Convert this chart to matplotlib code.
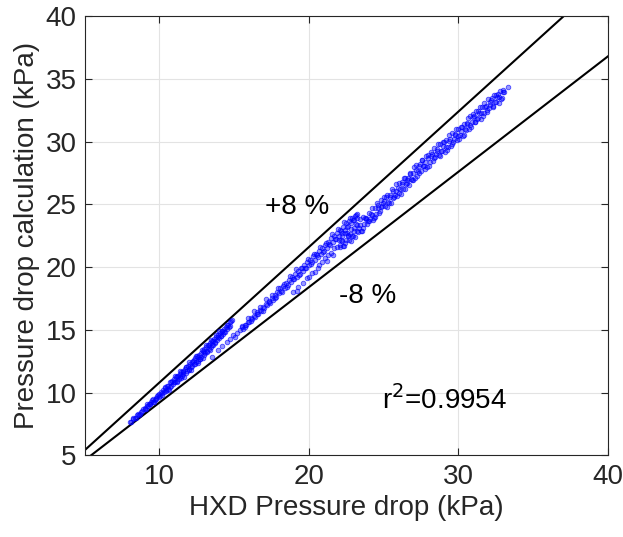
import matplotlib.pyplot as plt
import numpy as np

plt.rcParams['font.family'] = ['Liberation Sans', 'DejaVu Sans']

# branch at low pressure drop (x = HXD, y = calculation), kPa
branch_a = [
    (8.05, 7.62), (8.2, 7.85), (8.35, 7.95), (8.5, 8.2), (8.6, 8.22), (8.75, 8.48),
    (8.85, 8.5), (9.0, 8.76), (9.05, 8.65), (9.15, 8.92), (9.25, 8.95), (9.3, 9.1),
    (9.4, 9.08), (9.45, 9.28), (9.55, 9.25), (9.6, 9.45), (9.7, 9.38), (9.75, 9.6),
    (9.8, 9.52), (9.9, 9.78), (9.95, 9.65), (10.0, 9.9), (10.05, 9.75), (10.1, 10.02),
    (10.2, 9.95), (10.25, 10.18), (10.3, 10.05), (10.4, 10.35), (10.45, 10.15), (10.5, 10.5),
    (10.55, 10.28), (10.6, 10.55), (10.7, 10.45), (10.75, 10.8), (10.8, 10.55), (10.85, 10.92),
    (10.9, 10.65), (11.0, 11.1), (11.05, 10.82), (11.1, 11.2), (11.15, 10.95), (11.2, 11.35),
    (11.3, 11.05), (11.35, 11.5), (11.4, 11.2), (11.45, 11.62), (11.5, 11.3), (11.55, 11.75),
    (11.6, 11.45), (11.7, 11.9), (11.75, 11.55), (11.8, 12.0), (11.85, 11.7), (11.9, 12.15),
    (12.0, 11.85), (12.05, 12.3), (12.1, 12.0), (12.15, 12.45), (12.2, 12.1), (12.3, 12.6),
    (12.35, 12.25), (12.4, 12.75), (12.45, 12.4), (12.5, 12.9), (12.55, 12.5), (12.65, 13.0),
    (12.7, 12.7), (12.75, 13.15), (12.8, 12.85), (12.9, 13.35), (12.95, 13.0), (13.0, 13.5),
    (13.05, 13.15), (13.1, 13.6), (13.2, 13.3), (13.25, 13.8), (13.3, 13.5), (13.4, 13.95),
    (13.45, 13.65), (13.5, 14.1), (13.6, 13.8), (13.65, 14.3), (13.7, 14.0), (13.8, 14.45),
    (13.85, 14.15), (13.9, 14.6), (14.0, 14.35), (14.05, 14.75), (14.1, 14.5), (14.2, 14.9),
    (14.25, 14.65), (14.3, 15.05), (14.4, 14.85), (14.45, 15.2), (14.55, 15.05), (14.6, 15.4),
    (14.7, 15.3), (14.75, 15.6), (14.85, 15.75),
    (8.1, 7.63), (8.25, 7.98), (8.4, 7.99), (8.55, 8.32), (8.7, 8.27), (8.9, 8.65),
    (9.1, 8.69), (9.2, 9.07), (9.35, 9.05), (9.5, 9.43), (9.65, 9.27), (9.85, 9.74),
    (10.15, 9.77), (10.35, 10.41), (10.45, 10.2), (10.65, 10.24), (10.7, 10.87), (10.95, 10.8),
    (11.05, 11.28), (11.2, 10.82), (11.25, 11.3), (11.4, 11.72), (11.45, 11.18), (11.6, 11.61),
    (11.65, 11.27), (11.75, 12.01), (11.95, 11.77), (12.0, 12.4), (12.1, 11.81), (12.25, 12.53),
    (12.3, 12.24), (12.45, 12.94), (12.55, 12.34), (12.6, 12.83), (12.7, 12.66), (12.85, 13.41),
    (12.9, 12.77), (13.0, 13.22), (13.1, 13.79), (13.15, 13.2), (13.3, 13.81), (13.35, 13.36),
    (13.45, 14.19), (13.55, 13.8), (13.6, 14.1), (13.75, 13.93), (13.8, 14.59), (13.95, 14.42),
    (14.0, 14.9), (14.15, 14.49), (14.2, 14.93), (14.35, 14.84), (14.5, 15.38), (14.65, 15.26),
    (14.8, 15.7),
]

# middle branch
branch_m = [
    (13.55, 12.85), (13.9, 13.4), (14.2, 13.7), (14.5, 14.0), (14.75, 14.3), (14.9, 14.55),
    (15.05, 14.45), (15.2, 14.75),
    (15.4, 15.0), (15.5, 15.2), (15.6, 15.1), (15.7, 15.4), (15.8, 15.35), (15.9, 15.6),
    (16.0, 15.65), (16.1, 15.95), (16.2, 15.85), (16.3, 16.1), (16.4, 16.0), (16.5, 16.4),
    (16.6, 16.3), (16.7, 16.6), (16.8, 16.5), (16.9, 16.85), (17.0, 16.75), (17.1, 17.05),
    (17.2, 16.95), (17.3, 17.3), (17.4, 17.15), (17.5, 17.55), (17.6, 17.4), (17.7, 17.8),
    (17.8, 17.65), (17.9, 18.05), (18.0, 17.9), (18.1, 18.3), (18.2, 18.05), (18.3, 18.5),
    (18.4, 18.3), (18.5, 18.75), (18.6, 18.55), (18.7, 18.95), (18.8, 18.8), (18.9, 19.25),
    (19.0, 19.05), (19.1, 19.45), (19.2, 19.25), (19.3, 19.7), (19.4, 19.45), (19.5, 19.95),
    (19.6, 19.7), (19.7, 20.15), (19.8, 19.9), (19.9, 20.4), (20.0, 20.15), (20.1, 20.6),
    (20.2, 20.4), (20.3, 20.85), (20.4, 20.6), (20.5, 21.05), (20.6, 20.8), (20.7, 21.3),
    (20.8, 21.05), (20.9, 21.55), (21.0, 21.3), (21.1, 21.8), (21.2, 21.5), (21.3, 22.0),
    (21.4, 21.75), (21.5, 22.3), (21.6, 22.0), (21.7, 22.5), (21.8, 22.25), (21.9, 22.75),
    (22.0, 22.5), (22.1, 23.0), (22.2, 22.75), (22.3, 23.2), (22.4, 23.0), (22.5, 23.5),
    (22.6, 23.25), (22.7, 23.7), (22.8, 23.5), (22.9, 23.95), (23.0, 23.75), (23.1, 24.1),
    (23.2, 23.95), (23.25, 24.2),
    (15.55, 15.32), (15.75, 15.25), (15.95, 15.98), (16.15, 15.67), (16.35, 16.49), (16.55, 16.29),
    (16.75, 16.83), (16.95, 16.53), (17.15, 17.42), (17.35, 17.24), (17.55, 17.78), (17.75, 17.5),
    (17.95, 18.34), (18.15, 18.08), (18.35, 18.64), (18.55, 18.41), (18.75, 19.3), (18.95, 19.09),
    (19.15, 19.82), (19.35, 19.39), (19.55, 19.96), (19.75, 19.93), (19.95, 20.65), (20.15, 20.23),
    (20.35, 21.02), (20.55, 20.96), (20.75, 21.62), (20.95, 21.24), (21.15, 21.92), (21.35, 21.81),
    (21.55, 22.62), (21.75, 22.23), (21.95, 23.04), (22.15, 22.92), (22.35, 23.57), (22.55, 23.21),
    (22.75, 23.88), (22.95, 23.75), (23.15, 24.12),
]

# high pressure drop branch
branch_l = [
    (18.95, 18.05), (19.3, 18.4), (19.6, 18.75), (19.9, 19.1), (20.2, 19.5), (20.4, 19.65),
    (20.7, 20.2), (20.9, 20.4), (21.1, 20.7), (21.3, 20.95), (21.5, 21.15), (21.7, 21.5),
    (21.9, 21.6), (19.2, 18.1), (20.0, 19.25), (20.6, 19.9), (21.2, 20.45), (21.6, 21.0),
    (22.0, 22.15), (22.1, 21.6), (22.2, 22.1), (22.3, 21.65), (22.4, 22.7), (22.5, 22.2),
    (22.6, 22.6), (22.7, 22.15), (22.8, 23.05), (22.9, 22.5), (23.0, 22.85), (23.1, 22.41),
    (23.2, 23.37), (23.3, 22.83), (23.4, 23.34), (23.5, 22.9), (23.6, 23.96), (23.7, 23.47),
    (23.8, 23.88), (23.9, 23.44), (24.0, 24.35), (24.1, 23.82), (24.2, 24.19), (24.3, 23.76),
    (24.4, 24.73), (24.5, 24.2), (24.6, 24.72), (24.7, 24.29), (24.8, 25.36), (24.9, 24.88),
    (25.0, 25.3), (25.1, 24.86), (25.2, 25.77), (25.3, 25.23), (25.4, 25.59), (25.5, 25.15),
    (25.6, 26.11), (25.7, 25.57), (25.8, 26.08), (25.9, 25.64), (26.0, 26.7), (26.1, 26.22),
    (26.2, 26.64), (26.3, 26.21), (26.4, 27.13), (26.5, 26.6), (26.6, 26.97), (26.7, 26.54),
    (26.8, 27.51), (26.9, 26.98), (27.0, 27.5), (27.1, 27.07), (27.2, 28.14), (27.3, 27.66),
    (27.4, 28.08), (27.5, 27.65), (27.6, 28.57), (27.7, 28.04), (27.8, 28.41), (27.9, 27.98),
    (28.0, 28.95), (28.1, 28.4), (28.2, 28.9), (28.3, 28.45), (28.4, 29.5), (28.5, 29.0),
    (28.6, 29.4), (28.7, 28.95), (28.8, 29.85), (28.9, 29.3), (29.0, 29.65), (29.1, 29.2),
    (29.2, 30.15), (29.3, 29.6), (29.4, 30.1), (29.5, 29.65), (29.6, 30.7), (29.7, 30.2),
    (29.8, 30.6), (29.9, 30.15), (30.0, 31.05), (30.1, 30.52), (30.2, 30.89), (30.3, 30.46),
    (30.4, 31.43), (30.5, 30.9), (30.6, 31.42), (30.7, 30.99), (30.8, 32.06), (30.9, 31.58),
    (31.0, 32.0), (31.1, 31.56), (31.2, 32.47), (31.3, 31.93), (31.4, 32.29), (31.5, 31.85),
    (31.6, 32.81), (31.7, 32.27), (31.8, 32.78), (31.9, 32.34), (32.0, 33.4), (32.1, 32.9),
    (32.2, 33.3), (32.3, 32.85), (32.4, 33.75), (32.5, 33.2), (32.6, 33.55), (32.7, 33.1),
    (32.8, 34.05), (32.9, 33.5), (33.0, 34.0), (33.0, 34.1), (33.35, 34.4),
    (22.05, 21.75), (22.25, 22.5), (22.45, 21.95), (22.65, 22.5), (22.85, 22.1), (23.05, 23.16),
    (23.25, 22.88), (23.45, 23.85), (23.65, 23.12), (23.85, 23.84), (24.05, 23.71), (24.25, 24.7),
    (24.45, 23.99), (24.65, 24.93), (24.85, 24.77), (25.05, 25.56), (25.25, 24.83), (25.45, 25.75),
    (25.65, 25.52), (25.85, 26.64), (26.05, 25.91), (26.25, 26.8), (26.45, 26.24), (26.65, 27.08),
    (26.85, 27.02), (27.05, 28.01), (27.25, 27.25), (27.45, 28.19), (27.65, 28.08), (27.85, 28.87),
    (28.05, 28.1), (28.25, 29.05), (28.45, 28.75), (28.65, 29.85), (28.85, 29.3), (29.05, 30.0),
    (29.25, 29.35), (29.45, 30.2), (29.65, 30.0), (29.85, 31.0), (30.05, 30.26), (30.25, 31.2),
    (30.45, 31.04), (30.65, 31.88), (30.85, 31.17), (31.05, 32.06), (31.25, 31.83), (31.45, 32.75),
    (31.65, 32.02), (31.85, 32.84), (32.05, 32.66), (32.25, 33.53), (32.45, 33.15), (32.65, 33.8),
    (32.85, 33.4), (33.05, 34.0),
    (22.15, 22.2), (22.35, 21.7), (22.55, 22.75), (22.75, 22.65), (22.95, 22.45), (23.15, 23.47),
    (23.35, 23.09), (23.55, 22.91), (23.75, 23.93), (23.95, 23.65), (24.15, 24.23), (24.35, 23.92),
    (24.55, 25.11), (24.75, 24.5), (24.95, 25.1), (25.15, 25.62), (25.35, 25.14), (25.55, 26.21),
    (25.75, 25.78), (25.95, 26.35), (26.15, 25.83), (26.35, 27.07), (26.55, 26.71), (26.75, 27.4),
    (26.95, 26.94), (27.15, 27.78), (27.35, 27.52), (27.55, 28.56), (27.75, 27.85), (27.95, 28.69),
    (28.15, 29.2), (28.35, 28.7), (28.55, 29.25), (28.75, 28.85), (28.95, 29.95), (29.15, 29.55),
    (29.35, 30.5), (29.55, 29.8), (29.75, 30.5), (29.95, 30.45), (30.15, 31.18), (30.35, 30.52),
    (30.55, 31.51), (30.75, 31.3), (30.95, 32.19), (31.15, 31.57), (31.35, 32.49), (31.55, 32.26),
    (31.75, 33.13), (31.95, 32.5), (32.15, 33.2), (32.35, 32.8), (32.55, 33.75), (32.75, 33.55),
]

bounds = [1.08, 0.92]
bound_labels = ['+8 %', '-8 %']
r2_text = 'r$^2$=0.9954'
grey = '#262626'

fig = plt.figure(figsize=(6.23, 5.37), dpi=100)
ax = fig.add_axes([0.136, 0.1523, 0.8395, 0.8172])

for br in (branch_a, branch_m, branch_l):
    pts = np.array(br)
    ax.scatter(pts[:, 0], pts[:, 1], s=11, facecolors=(0, 0, 1, 0.4),
               edgecolors=(0, 0, 1, 0.65), linewidths=0.6, zorder=3)

xx = np.array([5, 40])
for k in bounds:
    ax.plot(xx, k * xx, color='black', lw=1.5, zorder=2)

ax.text(19.2, 24.8, bound_labels[0], fontsize=20, ha='center', va='center')
ax.text(23.9, 17.7, bound_labels[1], fontsize=20, ha='center', va='center')
ax.text(24.9, 9.4, r2_text, fontsize=20, ha='left', va='center')

ax.set_xlim(5, 40)
ax.set_ylim(5, 40)
ax.set_xticks([10, 20, 30, 40])
ax.set_yticks(range(5, 41, 5))
ax.grid(True, color='#e3e3e3', lw=0.8)
ax.set_axisbelow(True)
ax.tick_params(direction='in', length=5, width=0.8, colors=grey, labelsize=20,
               top=True, right=True, pad=6)
for sp in ax.spines.values():
    sp.set_color(grey)
    sp.set_linewidth(0.8)

ax.set_xlabel('HXD Pressure drop (kPa)', fontsize=20, color=grey, labelpad=4)
ax.set_ylabel('Pressure drop calculation (kPa)', fontsize=20, color=grey, labelpad=4)

fig.savefig('out.png', dpi=100)
